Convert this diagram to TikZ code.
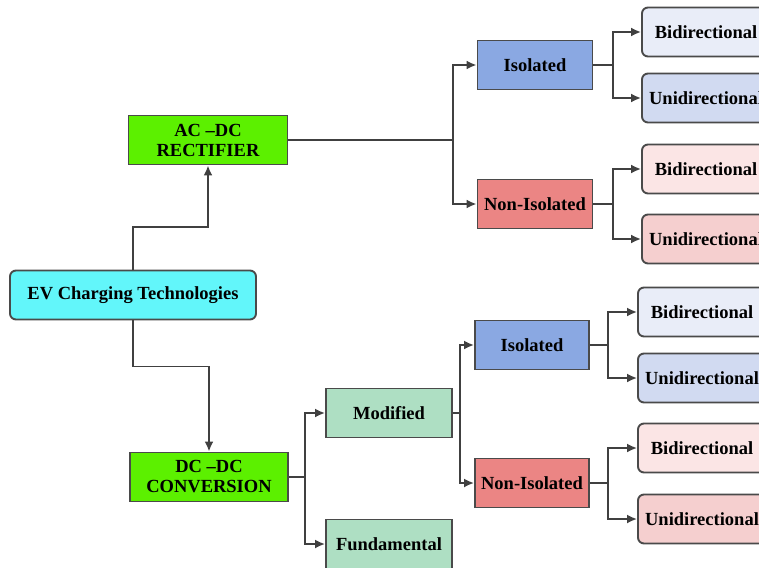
\documentclass[tikz,border=0pt]{standalone}
\usepackage{fontspec}
\setmainfont{Liberation Serif}
\usetikzlibrary{arrows.meta}
\definecolor{evcyan}{HTML}{62F6FA}
\definecolor{convgreen}{HTML}{5CF000}
\definecolor{isoblue}{HTML}{8AA8E2}
\definecolor{nonred}{HTML}{EB8584}
\definecolor{modgreen}{HTML}{AEDFC3}
\definecolor{bilightblue}{HTML}{E9EDF8}
\definecolor{unilightblue}{HTML}{D1DAF1}
\definecolor{bipink}{HTML}{FBE5E5}
\definecolor{unipink}{HTML}{F5CFCF}
\definecolor{boxgray}{HTML}{4A4A4A}
\definecolor{linegray}{HTML}{404040}
\begin{document}
\begin{tikzpicture}[x=1pt, y=-1pt, line width=1.9pt,
  box/.style={draw=boxgray, font={\fontsize{18.5}{20}\selectfont\bfseries}, inner sep=0pt, minimum height=49pt, align=center},
  leaf/.style={box, rounded corners=6pt, minimum width=128pt},
  link/.style={draw=linegray, -{Latex[length=10pt,width=9pt]}}]
  \useasboundingbox (0,0) rectangle (759,567);
  \clip (0,0) rectangle (759,567);
  % root and the two converter stages
  \node[box, fill=evcyan, rounded corners=6pt, minimum width=246pt] (ev) at (133,295) {EV Charging Technologies};
  \node[box, fill=convgreen, minimum width=159pt] (acdc) at (208,140) {AC --DC\\RECTIFIER};
  \node[box, fill=convgreen, minimum width=158pt] (dcdc) at (209,477) {DC --DC\\CONVERSION};
  % AC-DC branch
  \node[box, fill=isoblue, minimum width=115pt] (iso1) at (535,65) {Isolated};
  \node[box, fill=nonred, minimum width=115pt] (non1) at (535,204) {Non-Isolated};
  \node[leaf, fill=bilightblue] (bi1) at (706,32) {Bidirectional};
  \node[leaf, fill=unilightblue] (uni1) at (706,98) {Unidirectional};
  \node[leaf, fill=bipink] (bi2) at (706,169) {Bidirectional};
  \node[leaf, fill=unipink] (uni2) at (706,239) {Unidirectional};
  % DC-DC branch
  \node[box, fill=modgreen, minimum width=126pt] (mod) at (389,413) {Modified};
  \node[box, fill=modgreen, minimum width=126pt] (fund) at (389,544) {Fundamental};
  \node[box, fill=isoblue, minimum width=114pt] (iso2) at (532,345) {Isolated};
  \node[box, fill=nonred, minimum width=114pt] (non2) at (532,483) {Non-Isolated};
  \node[leaf, fill=bilightblue] (bi3) at (702,312) {Bidirectional};
  \node[leaf, fill=unilightblue] (uni3) at (702,378) {Unidirectional};
  \node[leaf, fill=bipink] (bi4) at (702,448) {Bidirectional};
  \node[leaf, fill=unipink] (uni4) at (702,519) {Unidirectional};
  % junctions
  \coordinate (jac) at (453,140);
  \coordinate (jdc) at (305,477);
  \coordinate (jmod) at (460,413);
  \coordinate (jiso1) at (613,65);
  \coordinate (jnon1) at (613,204);
  \coordinate (jiso2) at (608,345);
  \coordinate (jnon2) at (608,483);
  % connectors
  \draw[link] (ev.north) -- ++(0,-43) -| (acdc.south);
  \draw[link] (ev.south) -- ++(0,46) -| (dcdc.north);
  \foreach \a/\j in {acdc/jac, dcdc/jdc, mod/jmod, iso1/jiso1, non1/jnon1, iso2/jiso2, non2/jnon2}
    \draw[linegray] (\a.east) -- (\j);
  \foreach \j/\b in {jac/iso1, jac/non1, jdc/mod, jdc/fund, jmod/iso2, jmod/non2,
                     jiso1/bi1, jiso1/uni1, jnon1/bi2, jnon1/uni2,
                     jiso2/bi3, jiso2/uni3, jnon2/bi4, jnon2/uni4}
    \draw[link] (\j) |- (\b.west);
\end{tikzpicture}
\end{document}
